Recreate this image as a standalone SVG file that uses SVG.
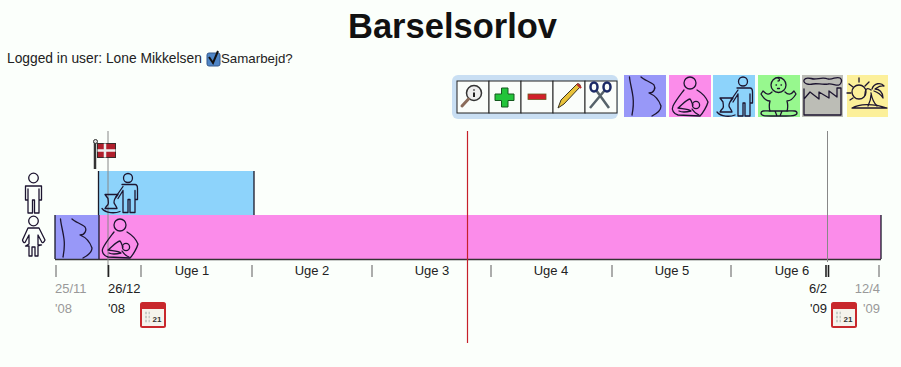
<svg xmlns="http://www.w3.org/2000/svg" width="901" height="367" viewBox="0 0 901 367">
<style>
text{font-family:"Liberation Sans",Arial,sans-serif;fill:#222}
.d{font-size:13px}
.g{fill:#999}
.k{fill:#222}
.i{fill:none;stroke:#1d1530;stroke-width:1.3;stroke-linejoin:round;stroke-linecap:round}
.tk{stroke:#777;stroke-width:1.2}
.tkd{stroke:#222;stroke-width:1.6}
.cell{fill:#fafdfa;stroke:#222;stroke-width:1}
</style>
<defs>
<g id="preg" class="i"><path d="M5.500 2C6 8 8 14 9 22C10 30 9 35 8 40"/><path d="M17 2C20 5 27 7 30 10C32 13 30 18 25 18C30 20 35 25 37 31C37 36 32 39 28 41"/></g>
<g id="mom" class="i"><circle cx="21" cy="8" r="6"/><path d="M15 15C12 19 7 25 4 31C2 35 5 39 9 40L31 41C34 38 38 31 39 27C37 22 33 18 28 15"/><path d="M9 33C14 29 17 25 21 24C23 26 23 29 24 30M10 36C14 38 18 37 22 36C20 34 16 34 9 33"/><circle cx="27" cy="30" r="3.600"/><path d="M23 34C25 37 27 39 30 40"/></g>
<g id="dad" class="i"><circle cx="30" cy="6.500" r="4.500"/><path d="M24 13H37C39 13 39.500 15 39.500 17V28H37V19M37 19V41H32V28H30V41H25V19M25 15L18 25M25 19L20 27"/><path d="M7 23H20L17 27C16 29 15 31 17 33C18 35 19 36 19 37H7C8 35 9 34 10 33C11 31 10 29 10 27Z"/><path d="M4 37C8 42 17 42 22 40"/></g>
<g id="person-m" class="i"><circle cx="0" cy="0" r="4.800"/><path d="M-8 8H8V22H5.500V11M-5.500 11V22H-8V8M-5.500 11V35H-1V22H1V35H5.500V11"/></g>
<g id="cal"><rect x="0" y="0" width="26" height="26" rx="2.500" fill="#c8282c"/><rect x="2" y="7" width="22" height="17" fill="#f5f3ec"/><text x="17" y="20" font-size="8" font-weight="700" text-anchor="middle" style="fill:#333">21</text><path d="M5 11H10M5 15H10M5 19H10" stroke="#c6ccc6" stroke-width="2.500" stroke-dasharray="2 1.500"/></g>
</defs>
<rect width="901" height="367" fill="#fbfffb"/>
<text x="452.500" y="38" font-size="34.500" font-weight="700" text-anchor="middle" style="fill:#111">Barselsorlov</text>
<g id="user-line">
<text x="7" y="63" font-size="13.800">Logged in user: Lone Mikkelsen</text>
<rect x="207" y="53" width="13" height="13" rx="2" fill="#4f86c6" stroke="#35598c"/>
<path d="M209 57L213 63L218 51" fill="none" stroke="#111" stroke-width="2"/>
<text x="221" y="63" font-size="13.300">Samarbejd?</text>
</g>
<g id="toolbar">
<rect x="452" y="75" width="166" height="44" rx="6" fill="#c9dff3"/>
<rect class="cell" x="457" y="81" width="32" height="32"/><rect class="cell" x="489" y="81" width="32" height="32"/><rect class="cell" x="521" y="81" width="32" height="32"/><rect class="cell" x="553" y="81" width="32" height="32"/><rect class="cell" x="585" y="81" width="32" height="32"/>
<circle cx="474" cy="93" r="7.500" fill="#eee" stroke="#333" stroke-width="1.500"/><path d="M474 89.500V90.500M474 92.500V97" stroke="#222" stroke-width="2"/>
<path d="M468.500 99L462 106" stroke="#8a6b5a" stroke-width="3" stroke-linecap="round"/>
<path d="M502.500 89H509V95H515V101.500H509V108H502.500V101.500H496V95H502.500Z" fill="#22c43a" stroke="#14591e" transform="translate(-1 -1)"/>
<rect x="528" y="94" width="18" height="5.500" fill="#d1202a" stroke="#6e5a20" stroke-width=".8"/>
<path d="M558 108L561 100L577 84C579 83 581 85 580 87L564 104Z" fill="#e8c23a" stroke="#3a3320"/>
<path d="M577 84L581 88L579 85" fill="#b8322e" stroke="#b8322e" stroke-width="2"/>
<path d="M590 108L605 90M609 108L596 90" stroke="#56626a" stroke-width="2.500" fill="none"/>
<ellipse cx="594" cy="87" rx="3.500" ry="4.500" fill="none" stroke="#1c2a66" stroke-width="2.500"/><ellipse cx="607" cy="87" rx="3.500" ry="4.500" fill="none" stroke="#1c2a66" stroke-width="2.500"/>
</g>
<g id="palette">
<g id="tile-pregnant" transform="translate(624 75)"><rect width="42" height="42" fill="#9898f8"/><use href="#preg"/></g>
<g id="tile-mother" transform="translate(669 75)"><rect width="42" height="42" fill="#fb8cea"/><use href="#mom"/></g>
<g id="tile-father" transform="translate(713 75)"><rect width="42" height="42" fill="#8dd3fb"/><use href="#dad"/></g>
<g id="tile-baby" transform="translate(758 75)"><rect width="42" height="42" fill="#97f88e"/>
<g class="i"><circle cx="20.500" cy="10" r="7.500"/><path d="M20 3C22 4 22 6 20 6M18 10h.5M23 10h.5M19.500 13.500h2"/><path d="M14 17C11 20 9 20 5 16L3 19C6 24 10 26 12 26C11 30 11 33 12 36M27 17C30 20 33 20 36 16L38 19C35 24 31 26 29 26C30 30 30 33 29 36"/><path d="M12 36H29C33 36 39 35 39 38C39 41 33 41 28 41H13C7 41 3 41 3 38C3 35 8 36 12 36ZM17 36L19 41M24 36L22 41"/></g></g>
<g id="tile-factory" transform="translate(802 75)"><rect width="41" height="42" fill="#bcbdb6"/>
<g class="i"><path d="M2 5C4 1 9 4 12 4C17 4 21 2 26 4C31 5 34 1 38 3C41 5 39 9 37 10C34 11 30 8 26 9C20 10 15 8 11 9C7 10 1 9 2 5Z"/><path d="M2 14V40H39V13H35V22L27 16V23L17 17V24L8 17L2 24"/></g></g>
<g id="tile-island" transform="translate(847 75)"><rect width="41" height="42" fill="#fcf09a"/>
<g class="i"><circle cx="12" cy="17" r="7"/><path d="M12 3V7M2 9L6 12M0 18H4M3 25L6 23M22 7L18 11"/><path d="M24 18C25 24 27 28 30 31M21 31C23 27 24 24 24 20M24 15C20 12 18 14 18 20M25 14C27 8 34 7 37 11C33 10 31 12 28 14C32 14 36 17 36 23C33 18 30 17 27 16"/><path d="M5 33C12 29 25 28 40 33Z"/></g></g>
</g>
<g id="bars">
<rect id="bar-mother" x="55" y="215" width="826" height="44" fill="#fb8cea"/>
<rect id="bar-pregnant" x="55" y="215" width="44" height="44" fill="#9898f8"/>
<rect id="bar-father" x="98" y="171" width="156" height="44" fill="#8dd3fb"/>
<path d="M98.500 171V215M254 171V215M55 215V259M99 215V259M881 215V259" stroke="#1a1a2a" stroke-width="1.300" fill="none"/>
<path d="M55 259.500H881" stroke="#333" stroke-width="1.500"/>
</g>
<g id="markers">
<path d="M108 131V277" stroke="#888" stroke-width="1"/>
<path d="M827.500 131V262" stroke="#888" stroke-width="1"/>
<path d="M467.500 131V343" stroke="#c6202a" stroke-width="1.200"/>
</g>
<g id="flag"><path d="M95 142V169" stroke="#333" stroke-width="2.500"/><circle cx="95.500" cy="141.500" r="2" fill="#ddd" stroke="#333"/><rect x="97.500" y="143.500" width="18" height="14" fill="#b01f2c" stroke="#3a2a2a"/><path d="M105 143.500V157.500M97.500 150.500H115.500" stroke="#eee" stroke-width="2.500"/></g>
<g id="bar-icons">
<use href="#preg" x="55" y="217"/>
<use href="#mom" x="99" y="217"/>
<use href="#dad" x="98" y="171.500"/>
</g>
<g id="man"><use href="#person-m" x="33.500" y="178"/></g>
<g id="woman" class="i"><circle cx="33.500" cy="221" r="4.800"/><path d="M28 228H39L45 240C44 242 43 243 42 242.500L38 235V245H41.500L38 246V256H35V247H32V256H29V246H25.500L29 244V235L25 242.500C24 243 23 242 22.500 240Z"/></g>
<g id="axis">
<path class="tk" d="M56 265V277M252 265V277M372 265V277M491 265V277M612 265V277M731 265V277M879 265V277"/>
<path class="tkd" d="M108.500 265V277M826 265V277M828.500 265V277"/>
<path class="tk" d="M141 265V277"/>
<text class="d" x="192" y="275" text-anchor="middle">Uge 1</text>
<text class="d" x="312" y="275" text-anchor="middle">Uge 2</text>
<text class="d" x="432" y="275" text-anchor="middle">Uge 3</text>
<text class="d" x="551" y="275" text-anchor="middle">Uge 4</text>
<text class="d" x="672" y="275" text-anchor="middle">Uge 5</text>
<text class="d" x="792" y="275" text-anchor="middle">Uge 6</text>
<text class="d g" x="55" y="293">25/11</text><text class="d g" x="55" y="313">'08</text>
<text class="d k" x="108" y="293">26/12</text><text class="d k" x="108" y="313">'08</text>
<text class="d k" x="827" y="293" text-anchor="end">6/2</text><text class="d k" x="827" y="313" text-anchor="end">'09</text>
<text class="d g" x="880" y="293" text-anchor="end">12/4</text><text class="d g" x="880" y="313" text-anchor="end">'09</text>
</g>
<g id="calendar-start"><use href="#cal" x="140" y="302"/></g>
<g id="calendar-end"><use href="#cal" x="831" y="302"/></g>
</svg>
